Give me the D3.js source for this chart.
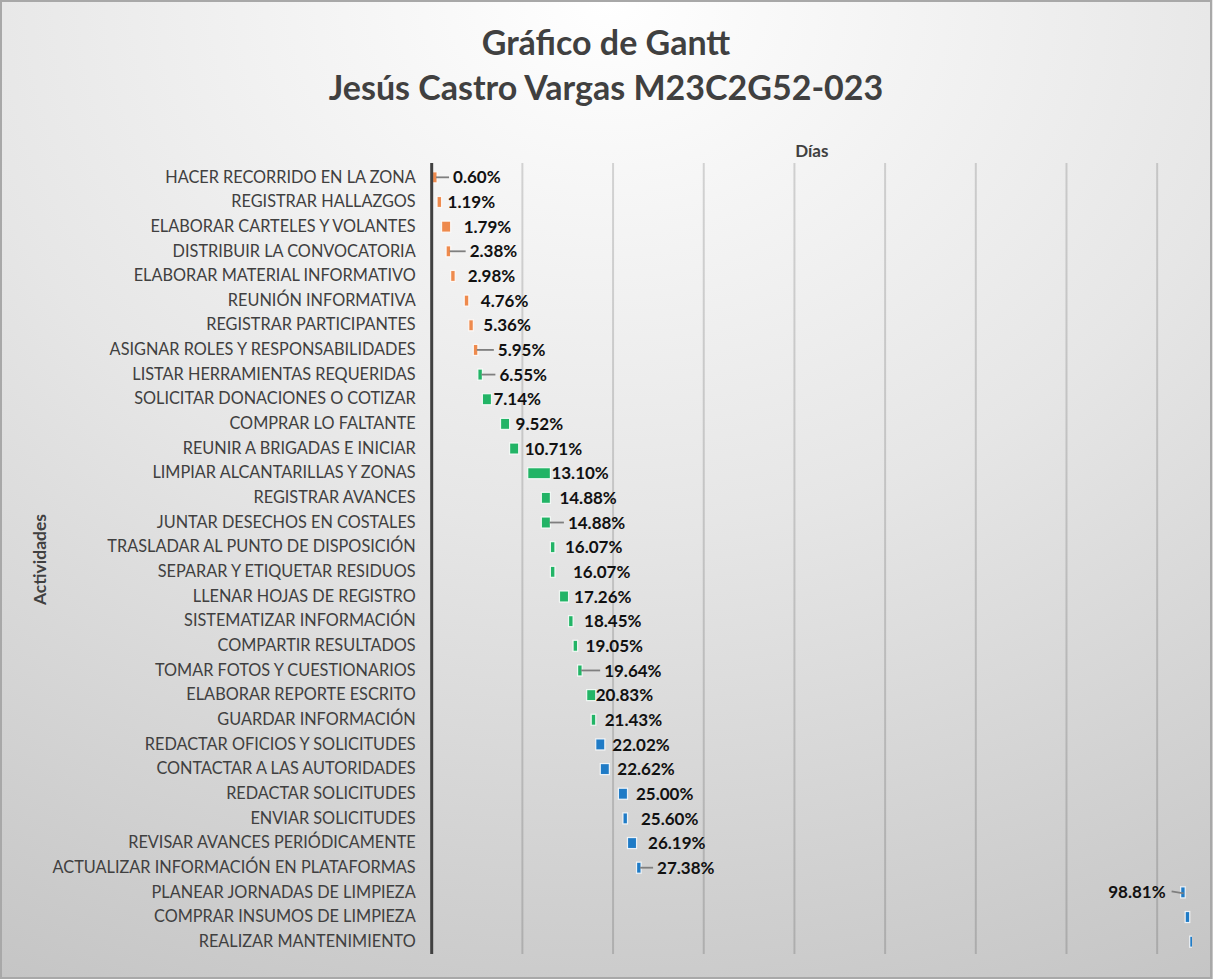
<!DOCTYPE html>
<html>
<head>
<meta charset="utf-8">
<script src="https://cdn.jsdelivr.net/npm/d3@7"></script>
<style>
  html, body { margin: 0; padding: 0; background: #fff; }
  svg { display: block; }
</style>
</head>
<body>
<svg id="chart" width="1213" height="979"></svg>
<script>
// ---- data ----
const activities = [
  "HACER RECORRIDO EN LA ZONA",
  "REGISTRAR HALLAZGOS",
  "ELABORAR CARTELES Y VOLANTES",
  "DISTRIBUIR LA CONVOCATORIA",
  "ELABORAR MATERIAL INFORMATIVO",
  "REUNIÓN INFORMATIVA",
  "REGISTRAR PARTICIPANTES",
  "ASIGNAR ROLES Y RESPONSABILIDADES",
  "LISTAR HERRAMIENTAS REQUERIDAS",
  "SOLICITAR DONACIONES O COTIZAR",
  "COMPRAR LO FALTANTE",
  "REUNIR A BRIGADAS E INICIAR",
  "LIMPIAR ALCANTARILLAS Y ZONAS",
  "REGISTRAR AVANCES",
  "JUNTAR DESECHOS EN COSTALES",
  "TRASLADAR AL PUNTO DE DISPOSICIÓN",
  "SEPARAR Y ETIQUETAR RESIDUOS",
  "LLENAR HOJAS DE REGISTRO",
  "SISTEMATIZAR INFORMACIÓN",
  "COMPARTIR RESULTADOS",
  "TOMAR FOTOS Y CUESTIONARIOS",
  "ELABORAR REPORTE ESCRITO",
  "GUARDAR INFORMACIÓN",
  "REDACTAR OFICIOS Y SOLICITUDES",
  "CONTACTAR A LAS AUTORIDADES",
  "REDACTAR SOLICITUDES",
  "ENVIAR SOLICITUDES",
  "REVISAR AVANCES PERIÓDICAMENTE",
  "ACTUALIZAR INFORMACIÓN EN PLATAFORMAS",
  "PLANEAR JORNADAS DE LIMPIEZA",
  "COMPRAR INSUMOS DE LIMPIEZA",
  "REALIZAR MANTENIMIENTO"
];
const startDay = [1, 2, 3, 4, 5, 8, 9, 10, 11, 12, 16, 18, 22, 25, 25, 27, 27, 29, 31, 32, 33, 35, 36, 37, 38, 42, 43, 44, 46, 166, 167, 168];
const durationDays = [1, 1, 2, 1, 1, 1, 1, 1, 1, 2, 2, 2, 5, 2, 2, 1, 1, 2, 1, 1, 1, 2, 1, 2, 2, 2, 1, 2, 1, 1, 1, 1];
const phase = ["A","A","A","A","A","A","A","A","B","B","B","B","B","B","B","B","B","B","B","B","B","B","B","C","C","C","C","C","C","C","C","C"];
const showLabel = [1,1,1,1,1,1,1,1,1,1,1,1,1,1,1,1,1,1,1,1,1,1,1,1,1,1,1,1,1,1,0,0];
const totalDays = 168;
const dayMin = 0.82, dayMax = 168.5, gridStep = 20;

// ---- layout / style (not data) ----
const phaseColor = { A: "#EE8A4D", B: "#22B466", C: "#1F7BC6" };
const labelShift = [16, 6, 13, 19, 12.5, 12, 10, 20, 17, 2, 6, 6, 1, 9, 17.5, 10, 18, 5.5, 11, 8, 22, 0, 9, 7.5, 8, 8.5, 13.5, 11.5, 16, -77, 0, 0];
const hasLeader = [1,0,0,1,0,0,0,1,1,0,0,0,0,0,1,0,0,0,0,0,1,0,0,0,0,0,0,0,1,1,0,0];
const FONT = "Lato, 'Open Sans', sans-serif";

const W = 1213, H = 979;
const plot = { left: 431.7, right: 1192, top: 165, bottom: 954 };

const svg = d3.select("#chart");
const defs = svg.append("defs");
const grad = defs.append("radialGradient").attr("id", "bg")
  .attr("cx", "50%").attr("cy", "0%").attr("r", "120%").attr("fx", "50%").attr("fy", "0%");
grad.append("stop").attr("offset", "0%").attr("stop-color", "#ffffff");
grad.append("stop").attr("offset", "45%").attr("stop-color", "#e6e6e6");
grad.append("stop").attr("offset", "100%").attr("stop-color", "#c0c0c0");
defs.append("clipPath").attr("id", "plotclip").append("rect")
  .attr("x", plot.left).attr("y", plot.top)
  .attr("width", plot.right - plot.left).attr("height", plot.bottom - plot.top);

svg.append("rect").attr("x", 0).attr("y", 0).attr("width", W).attr("height", H)
  .attr("fill", "url(#bg)");
svg.append("rect").attr("x", 1).attr("y", 1).attr("width", W - 3).attr("height", H - 2)
  .attr("fill", "none").attr("stroke", "#a8a8a8").attr("stroke-width", 2);

const x = d3.scaleLinear().domain([dayMin, dayMax]).range([plot.left, plot.right]);
const y = d3.scaleBand().domain(activities).range([plot.top, plot.bottom]).paddingInner(0).paddingOuter(0);
const barH = 11;

// gridlines
const gridTicks = d3.range(dayMin + gridStep, dayMax, gridStep);
svg.append("g").selectAll("line").data(gridTicks).join("line")
  .attr("x1", d => x(d)).attr("x2", d => x(d))
  .attr("y1", plot.top - 2).attr("y2", plot.bottom)
  .attr("stroke", "rgba(0,0,0,0.15)").attr("stroke-width", 2);

// category axis (left)
const yAxis = d3.axisLeft(y).tickSize(0).tickPadding(16);
const gy = svg.append("g").attr("transform", `translate(${plot.left},0)`).call(yAxis);
gy.select(".domain").remove();
gy.selectAll("text")
  .attr("font-family", FONT)
  .attr("font-size", 16.3)
  .attr("fill", "#404040");

const rows = activities.map((a, i) => ({
  name: a, start: startDay[i], dur: durationDays[i], phase: phase[i],
  show: showLabel[i], shift: labelShift[i], leader: hasLeader[i]
}));

// bars
svg.append("g").attr("clip-path", "url(#plotclip)").selectAll("rect").data(rows).join("rect")
  .attr("x", d => x(d.start))
  .attr("y", d => y(d.name) + y.bandwidth() / 2 - barH / 2)
  .attr("width", d => x(d.start + d.dur) - x(d.start))
  .attr("height", barH)
  .attr("fill", d => phaseColor[d.phase])
  .attr("stroke", "rgba(255,255,255,0.85)")
  .attr("stroke-width", 1.2);

const leaderG = svg.append("g");

// data labels
const pct = d3.format(".2%");
const labels = svg.append("g").selectAll("text").data(rows.filter(d => d.show)).join("text")
  .attr("x", d => x(d.start + d.dur) + d.shift)
  .attr("y", d => y(d.name) + y.bandwidth() / 2)
  .attr("dy", "0.36em")
  .attr("font-family", FONT)
  .attr("font-weight", "bold")
  .attr("font-size", 17)
  .attr("fill", "#111")
  .text(d => pct(d.start / totalDays));

// leader lines
labels.each(function(d) {
  if (!d.leader) return;
  const cy = y(d.name) + y.bandwidth() / 2;
  const lx = x(d.start + d.dur) + d.shift;
  if (d.shift >= 0) {
    leaderG.append("line")
      .attr("x1", x(d.start + d.dur) - 1).attr("x2", lx - 4)
      .attr("y1", cy).attr("y2", cy)
      .attr("stroke", "#7f7f7f").attr("stroke-width", 1.8);
  } else {
    const w = this.getComputedTextLength();
    leaderG.append("line")
      .attr("x1", lx + w + 6).attr("x2", x(d.start) + 3)
      .attr("y1", cy - 1).attr("y2", cy + 1)
      .attr("stroke", "#7f7f7f").attr("stroke-width", 1.8);
  }
});

// axis line
svg.append("line")
  .attr("x1", plot.left).attr("x2", plot.left)
  .attr("y1", plot.top - 2).attr("y2", plot.bottom)
  .attr("stroke", "#404040").attr("stroke-width", 3);

// titles
const title = svg.append("text").attr("text-anchor", "middle")
  .attr("font-family", FONT).attr("font-weight", "bold")
  .attr("font-size", 34).attr("fill", "#404040");
title.append("tspan").attr("x", 606).attr("y", 55).text("Gráfico de Gantt");
title.append("tspan").attr("x", 606).attr("y", 100).text("Jesús Castro Vargas M23C2G52-023");

svg.append("text").attr("x", (plot.left + plot.right) / 2).attr("y", 157)
  .attr("text-anchor", "middle")
  .attr("font-family", FONT).attr("font-weight", "bold")
  .attr("font-size", 17).attr("fill", "#404040").text("Días");

svg.append("text")
  .attr("transform", `translate(46,${(plot.top + plot.bottom) / 2}) rotate(-90)`)
  .attr("text-anchor", "middle")
  .attr("font-family", FONT).attr("font-weight", "bold")
  .attr("font-size", 17.5).attr("fill", "#404040").text("Actividades");
</script>
</body>
</html>
